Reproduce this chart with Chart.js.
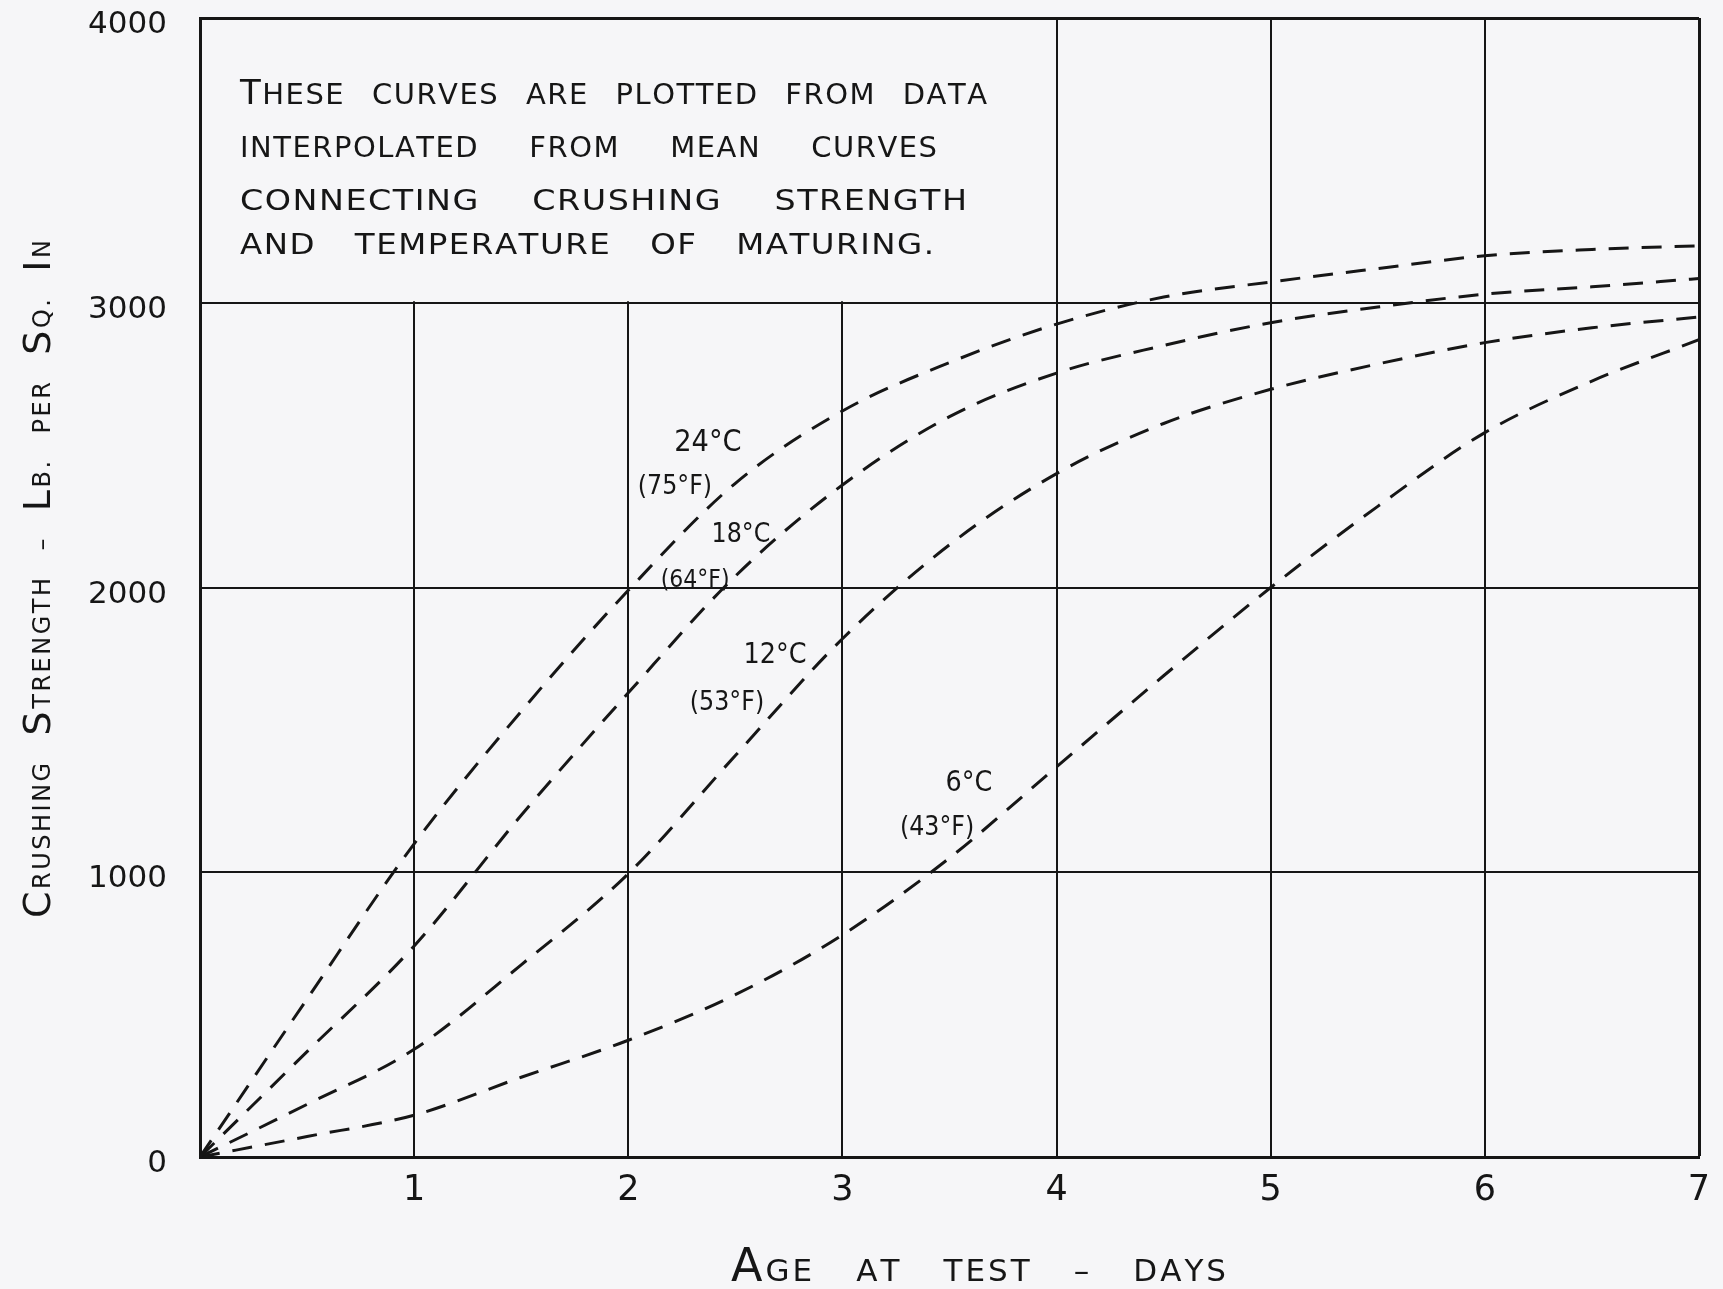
<!DOCTYPE html>
<html>
<head>
<meta charset="utf-8">
<title>Crushing strength and age at test</title>
<script src="https://cdn.jsdelivr.net/npm/chart.js@4.4.1/dist/chart.umd.min.js"></script>
<style>
  html, body { margin: 0; padding: 0; background: #f6f6f8; }
  canvas { display: block; }
</style>
</head>
<body>
<canvas id="chart" width="1723" height="1289"></canvas>
<script>
// Age at test (days) at which each curve is sampled
const ageDays = [0, 0.5, 1, 1.5, 2, 2.5, 3, 3.5, 4, 4.5, 5, 5.5, 6, 6.5, 7];

// Crushing strength, lb per sq in, for each maturing temperature
const strength24C = [0, 555, 1100, 1565, 1990, 2366, 2620, 2790, 2925, 3020, 3073, 3120, 3165, 3187, 3200];
const strength18C = [0, 370, 741, 1200, 1630, 2040, 2360, 2600, 2753, 2850, 2930, 2985, 3030, 3056, 3085];
const strength12C = [0, 185, 378, 675, 995, 1410, 1820, 2150, 2400, 2576, 2696, 2785, 2860, 2912, 2950];
const strength6C  = [0, 72, 147, 280, 410, 570, 780, 1050, 1370, 1690, 2000, 2285, 2544, 2725, 2870];

// Axis ticks
const dayTicks = [0, 1, 2, 3, 4, 5, 6, 7];
const strengthTicks = [0, 1000, 2000, 3000, 4000];

// Curve names (Celsius / Fahrenheit)
const curveCelsius = ['24°C', '18°C', '12°C', '6°C'];
const curveFahrenheit = ['(75°F)', '(64°F)', '(53°F)', '(43°F)'];

// Note text in the upper-left panel
const noteLines = [
  'These curves are plotted from data',
  'interpolated from mean curves',
  'connecting crushing strength',
  'and temperature of maturing.'
];

const xTitle = 'Age at test – days';
const yTitle = 'Crushing Strength – Lb. per Sq. In';

// ---- styling ----
const PAPER = '#f6f6f8';
const INK = '#161616';
const FONT = '"DejaVu Sans", "Liberation Sans", sans-serif';

// label placement in chart units: [day, strength, fontPx]
const labelPlaces = [
  { c: [2.372, 2507, 31], f: [2.218, 2353, 27] },
  { c: [2.526, 2184, 27], f: [2.312, 2026, 25] },
  { c: [2.685, 1763, 29], f: [2.461, 1594, 27] },
  { c: [3.591, 1313, 29], f: [3.442, 1155, 27] }
];

// Draw a line of lettering: capitals in a large size, lower-case letters as small capitals,
// words spread so the line runs from x0 to x1.
function drawCapsLine(ctx, text, x0, x1, baseY, o) {
  const words = text.split(' ');
  const glyphs = words.map(w => [...w].map(ch => {
    const big = ch !== ch.toLowerCase();
    const size = big ? o.big : o.small;
    ctx.font = `${size}px ${FONT}`;
    const up = ch.toUpperCase();
    return { ch: up, size, w: ctx.measureText(up).width * o.sx };
  }));
  const wordW = glyphs.map(g => g.reduce((s, q) => s + q.w, 0) + o.ls * (g.length - 1));
  const total = wordW.reduce((a, b) => a + b, 0);
  const gap = words.length > 1 ? (x1 - x0 - total) / (words.length - 1) : 0;
  let x = x0;
  glyphs.forEach(g => {
    g.forEach((q, j) => {
      ctx.save();
      ctx.font = `${q.size}px ${FONT}`;
      ctx.translate(x, baseY);
      ctx.scale(o.sx, 1);
      ctx.fillText(q.ch, 0, 0);
      ctx.restore();
      x += q.w + (j < g.length - 1 ? o.ls : 0);
    });
    x += gap;
  });
}

function drawLabel(ctx, text, px, py, size, sx) {
  ctx.save();
  ctx.font = `${size}px ${FONT}`;
  ctx.textAlign = 'center';
  ctx.textBaseline = 'middle';
  ctx.translate(px, py);
  ctx.scale(sx, 1);
  ctx.fillText(text, 0, 0);
  ctx.restore();
}

const paperPlugin = {
  id: 'paper',
  beforeDraw(chart) {
    const c = chart.ctx;
    c.save();
    c.fillStyle = PAPER;
    c.fillRect(0, 0, chart.width, chart.height);
    c.restore();
  }
};

// Clear the grid inside the note panel (days 0–4, 3000–4000) and letter the note
const notePlugin = {
  id: 'note',
  beforeDatasetsDraw(chart) {
    const { x, y } = chart.scales;
    const c = chart.ctx;
    const l = x.getPixelForValue(0), r = x.getPixelForValue(4);
    const t = y.getPixelForValue(4000), b = y.getPixelForValue(3000);
    c.save();
    c.fillStyle = PAPER;
    c.fillRect(l + 2, t + 2, r - l - 3.5, b - t - 3.5);
    c.fillStyle = INK;
    c.textBaseline = 'alphabetic';
    const a = chart.chartArea;
    const ends = [787, 737, 767, 734];
    const bases = [86, 139, 192, 236];
    const widths = [1.0, 1.0, 1.15, 1.12];
    noteLines.forEach((line, i) => {
      drawCapsLine(c, line, a.left + 40, a.left + ends[i], a.top + bases[i],
        { big: 34, small: 29, sx: widths[i], ls: 1.5 });
    });
    c.restore();
  }
};

const lettering = {
  id: 'lettering',
  afterDraw(chart) {
    const { x, y } = chart.scales;
    const c = chart.ctx;
    c.save();
    c.fillStyle = INK;
    c.textBaseline = 'alphabetic';
    // x-axis title
    drawCapsLine(c, xTitle, 731, 1226, 1281, { big: 46, small: 31, sx: 1, ls: 3 });
    // y-axis title, reading upward
    c.save();
    c.translate(50, 918);
    c.rotate(-Math.PI / 2);
    drawCapsLine(c, yTitle, 0, 678, 0, { big: 38, small: 24, sx: 1, ls: 2.5 });
    c.restore();
    // curve names
    labelPlaces.forEach((p, i) => {
      drawLabel(c, curveCelsius[i], x.getPixelForValue(p.c[0]), y.getPixelForValue(p.c[1]), p.c[2], 0.88);
      drawLabel(c, curveFahrenheit[i], x.getPixelForValue(p.f[0]), y.getPixelForValue(p.f[1]), p.f[2], 0.88);
    });
    c.restore();
  }
};

function series(values) {
  return values.map((v, i) => ({ x: ageDays[i], y: v }));
}

const curveStyle = {
  borderColor: INK,
  borderWidth: 3,
  borderDash: [20, 13],
  borderCapStyle: 'butt',
  pointRadius: 0,
  fill: false,
  cubicInterpolationMode: 'monotone'
};

new Chart(document.getElementById('chart'), {
  type: 'line',
  data: {
    datasets: [
      { label: curveCelsius[0], data: series(strength24C), ...curveStyle },
      { label: curveCelsius[1], data: series(strength18C), ...curveStyle },
      { label: curveCelsius[2], data: series(strength12C), ...curveStyle },
      { label: curveCelsius[3], data: series(strength6C), ...curveStyle }
    ]
  },
  options: {
    responsive: false,
    devicePixelRatio: 1,
    animation: false,
    layout: { padding: { top: 18, right: 24, left: 0, bottom: 0 } },
    plugins: {
      legend: { display: false },
      tooltip: { enabled: false },
      title: { display: false }
    },
    scales: {
      x: {
        type: 'linear',
        min: 0,
        max: 7,
        afterBuildTicks(scale) { scale.ticks = dayTicks.map(v => ({ value: v })); },
        afterFit(scale) {
          scale.height = 132;
          scale.paddingLeft = 0;
          scale.paddingRight = 0;
        },
        grid: {
          color: INK,
          lineWidth: ctx => (ctx.tick && ctx.tick.value === 7 ? 3 : 2),
          drawTicks: false
        },
        border: { display: true, color: INK, width: 3 },
        ticks: {
          color: INK,
          padding: 13,
          font: { family: FONT, size: 35 },
          callback: v => (v === 0 ? '' : String(v))
        }
      },
      y: {
        min: 0,
        max: 4000,
        afterBuildTicks(scale) { scale.ticks = strengthTicks.map(v => ({ value: v })); },
        afterFit(scale) {
          scale.width = 200;
          scale.paddingTop = 0;
          scale.paddingBottom = 0;
        },
        grid: {
          color: INK,
          lineWidth: ctx => (ctx.tick && ctx.tick.value === 4000 ? 3 : 2),
          drawTicks: false
        },
        border: { display: true, color: INK, width: 3 },
        ticks: {
          color: INK,
          padding: 33,
          labelOffset: 7,
          font: { family: FONT, size: 31 },
          callback: v => String(v)
        }
      }
    }
  },
  plugins: [paperPlugin, notePlugin, lettering]
});
</script>
</body>
</html>
